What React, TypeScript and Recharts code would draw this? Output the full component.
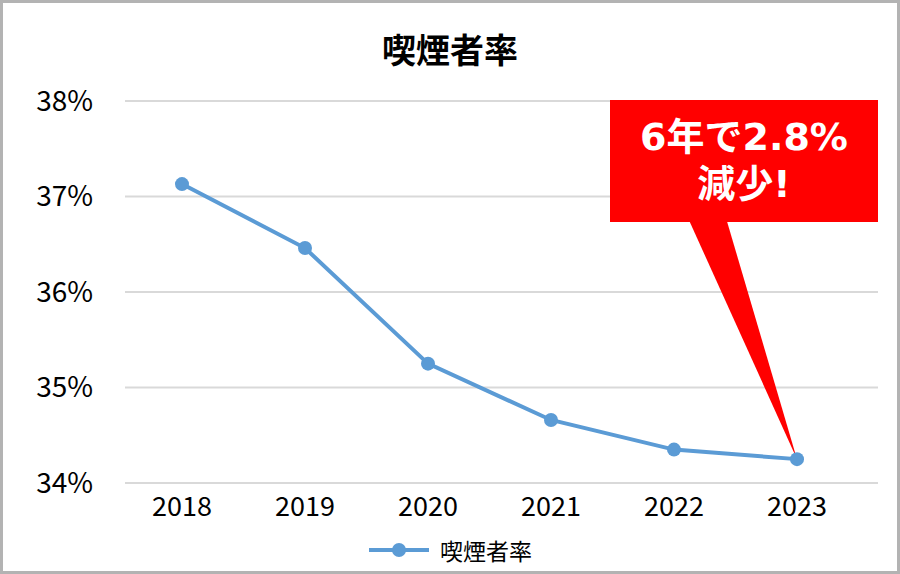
import { CartesianGrid, Legend, Line, LineChart, XAxis, YAxis } from 'recharts'

const years = ['2018', '2019', '2020', '2021', '2022', '2023']
const smokingRate = [37.13, 36.46, 35.25, 34.66, 34.35, 34.25]
const yTicks = [34, 35, 36, 37, 38]
const seriesName = '喫煙者率'
const calloutLines = ['6年で2.8%', '減少!']

const FONT = '"Noto Sans CJK JP", "Noto Sans", sans-serif'
const CALLOUT_FONT = '"DejaVu Sans", "Noto Sans CJK JP", sans-serif'
const BLUE = '#5b9bd5'
const RED = '#ff0000'

const chartData = years.map((year, i) => ({ year, rate: smokingRate[i] }))

// pointer of the callout, drawn from the box bottom down to the last point
function CalloutDot(props: any) {
  const { cx, cy, index } = props
  const dot = <circle cx={cx} cy={cy} r={7} fill={BLUE} />
  if (index !== chartData.length - 1) {
    return <g key={`dot-${index}`}>{dot}</g>
  }
  return (
    <g key={`dot-${index}`}>
      <polygon points={`688,218 726,218 ${cx},${cy}`} fill={RED} />
      {dot}
    </g>
  )
}

function LegendContent() {
  return (
    <div
      style={{
        display: 'flex',
        justifyContent: 'center',
        alignItems: 'center',
        fontFamily: FONT,
        fontSize: 23,
        color: '#000',
      }}
    >
      <svg width={62} height={16} style={{ marginRight: 10 }}>
        <line x1={1} y1={8} x2={61} y2={8} stroke={BLUE} strokeWidth={4} />
        <circle cx={31} cy={8} r={7} fill={BLUE} />
      </svg>
      <span>{seriesName}</span>
    </div>
  )
}

export default function App() {
  return (
    <div
      style={{
        position: 'absolute',
        top: 0,
        left: 0,
        width: 900,
        height: 574,
        background: '#fff',
        border: '3px solid #b3b3b3',
        boxSizing: 'border-box',
      }}
    >
      <div
        style={{
          position: 'absolute',
          top: 24,
          left: 0,
          width: 894,
          textAlign: 'center',
          fontFamily: FONT,
          fontSize: 34,
          fontWeight: 700,
          lineHeight: '44px',
          color: '#000',
        }}
      >
        {seriesName}
      </div>
      <div style={{ position: 'absolute', top: -3, left: -3 }}>
        <LineChart
          width={900}
          height={574}
          data={chartData}
          margin={{ top: 101, right: 22, bottom: 31, left: 25 }}
        >
          <CartesianGrid
            vertical={false}
            stroke='#d9d9d9'
            strokeWidth={2}
          />
          <XAxis
            dataKey='year'
            axisLine={false}
            tickLine={false}
            tickSize={0}
            tickMargin={14}
            padding={{ left: 57, right: 81 }}
            tick={{ fill: '#000', fontSize: 27, fontFamily: FONT }}
            height={60}
          />
          <YAxis
            domain={[34, 38]}
            ticks={yTicks}
            axisLine={false}
            tickLine={false}
            tickSize={0}
            tickMargin={32}
            width={100}
            tickFormatter={(v) => `${v}%`}
            tick={{ fill: '#000', fontSize: 28, fontFamily: FONT }}
          />
          <Legend
            layout='vertical'
            align='center'
            verticalAlign='middle'
            content={<LegendContent />}
            wrapperStyle={{ top: 533, left: 0, width: 900 }}
          />
          <Line
            type='linear'
            dataKey='rate'
            name={seriesName}
            stroke={BLUE}
            strokeWidth={4}
            dot={CalloutDot}
            activeDot={false}
            isAnimationActive={false}
          />
        </LineChart>
      </div>
      <div
        style={{
          position: 'absolute',
          top: 97,
          left: 607,
          width: 268,
          height: 122,
          background: RED,
          color: '#fff',
          textAlign: 'center',
          fontFamily: CALLOUT_FONT,
          fontSize: 38,
          fontWeight: 700,
          lineHeight: '47px',
          paddingTop: 14,
          boxSizing: 'border-box',
        }}
      >
        {calloutLines[0]}
        <br />
        {calloutLines[1]}
      </div>
    </div>
  )
}
